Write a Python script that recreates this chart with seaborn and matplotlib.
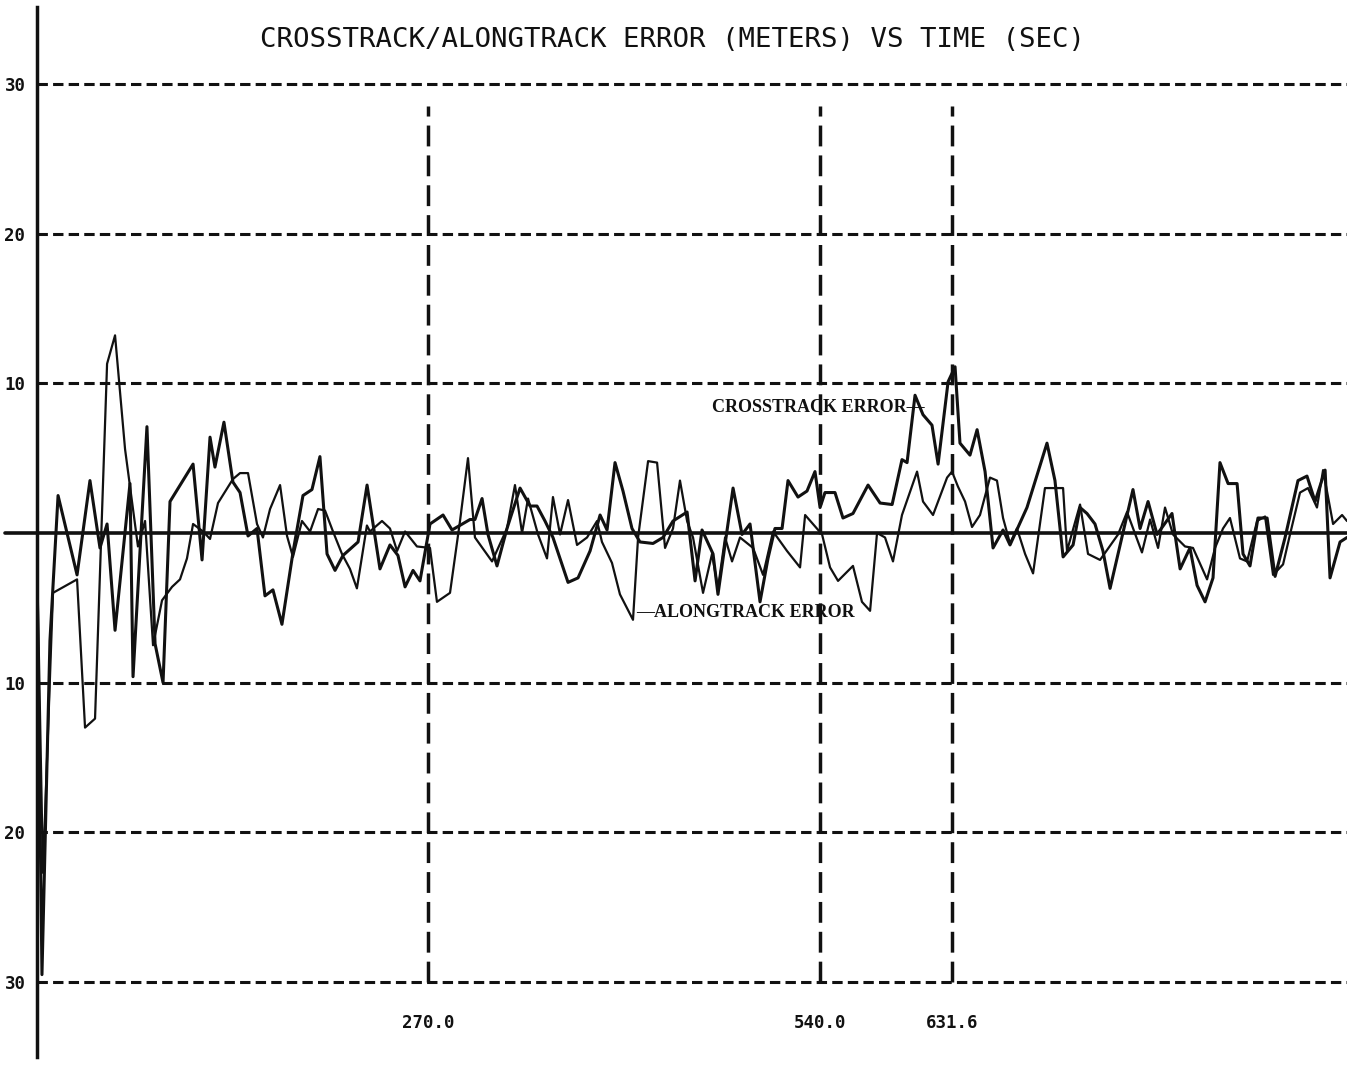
import matplotlib
matplotlib.use("Agg")
import matplotlib.pyplot as plt
from matplotlib import font_manager
import pandas as pd
import seaborn as sns

# ---------------- data ----------------
title = "CROSSTRACK/ALONGTRACK ERROR (METERS) VS TIME (SEC)"

crosstrack_t = [0, 3.7, 9.2, 14.8, 27.9, 36.8, 43.7, 48.6, 54.1, 64.4,
                66.5, 76.1, 81.7, 87.2, 92.0, 107.9, 114.1, 119.6, 123.0, 129.2,
                135.4, 140.3, 145.8, 152.0, 157.5, 163.0, 169.2, 176.8, 183.7, 189.9,
                195.4, 200.3, 205.8, 211.3, 221.7, 227.9, 236.8, 243.7, 249.2, 254.1,
                259.6, 264.4, 271.3, 280.3, 286.5, 298.9, 302.3, 307.2, 311.3, 317.5,
                324.4, 333.4, 340.3, 345.1, 350.6, 356.1, 366.5, 373.4, 381.7, 388.6,
                393.4, 398.9, 404.4, 410.6, 416.1, 425.1, 432.0, 438.9, 448.6, 454.1,
                458.9, 466.5, 469.9, 480.3, 486.5, 492.0, 498.9, 504.4, 509.2, 514.1,
                518.2, 525.1, 531.3, 536.8, 540.3, 543.7, 550.6, 556.1, 563.0, 573.4,
                581.7, 590.0, 596.8, 600.3, 605.8, 611.3, 617.5, 621.7, 628.6, 633.4,
                636.8, 643.7, 648.6, 654.1, 659.6, 666.5, 671.3, 683.0, 696.8, 702.3,
                707.9, 714.8, 719.6, 724.4, 729.9, 735.4, 740.3, 745.8, 756.1, 761.0,
                766.5, 772.7, 783.0, 788.6, 795.4, 800.3, 805.8, 811.3, 816.1, 821.7,
                827.9, 832.0, 836.8, 842.3, 848.6, 854.1, 861.0, 869.9, 876.1, 881.7,
                888.6, 892.0, 898.9, 903.7]
crosstrack_v = [0, -29.5, -7.2, 2.5, -2.8, 3.5, -1.0, 0.6, -6.5, 3.3,
                -9.6, 7.1, -7.4, -10.0, 2.1, 4.6, -1.8, 6.4, 4.4, 7.4,
                3.4, 2.7, -0.2, 0.3, -4.2, -3.8, -6.1, -1.3, 2.5, 2.9,
                5.1, -1.4, -2.5, -1.5, -0.6, 3.2, -2.4, -0.8, -1.5, -3.6,
                -2.5, -3.2, 0.6, 1.2, 0.2, 0.9, 0.9, 2.3, -0.1, -2.2,
                0.3, 3.0, 1.8, 1.8, 0.8, -0.3, -3.3, -3.0, -1.2, 1.2,
                0.2, 4.7, 2.8, 0.3, -0.6, -0.7, -0.3, 0.8, 1.4, -3.2,
                0.2, -1.4, -4.1, 3.0, -0.1, 0.6, -4.6, -1.7, 0.3, 0.3,
                3.5, 2.4, 2.8, 4.1, 1.7, 2.7, 2.7, 1.0, 1.3, 3.2,
                2.0, 1.9, 4.9, 4.7, 9.2, 7.9, 7.2, 4.6, 10.1, 11.1,
                6.0, 5.2, 6.9, 4.1, -1.0, 0.2, -0.8, 1.7, 6.0, 3.5,
                -1.6, -0.8, 1.7, 1.3, 0.6, -1.2, -3.7, -1.4, 2.9, 0.3,
                2.1, -0.1, 1.3, -2.4, -1.0, -3.5, -4.6, -3.0, 4.7, 3.3,
                3.3, -1.4, -2.2, 1.0, 1.0, -2.9, -0.3, 3.5, 3.8, 2.1,
                4.2, -3.0, -0.6, -0.3]

alongtrack_t = [0, 4.4, 11.3, 27.9, 33.4, 40.3, 48.6, 54.1, 61.0, 69.9,
                74.8, 80.3, 86.5, 93.4, 98.9, 103.7, 107.9, 114.8, 119.6, 125.1,
                135.4, 140.3, 145.8, 152.0, 156.1, 161.0, 167.9, 172.7, 176.8, 183.0,
                188.6, 194.1, 198.9, 204.4, 210.6, 216.1, 220.9, 227.8, 229.9, 238.2,
                243.7, 248.6, 254.1, 262.3, 271.3, 276.1, 285.1, 292.0, 297.5, 302.3,
                314.1, 324.4, 329.9, 334.8, 338.9, 345.8, 352.0, 356.1, 361.0, 366.5,
                372.7, 379.6, 386.5, 389.9, 396.8, 402.3, 411.3, 414.8, 421.7, 427.9,
                433.4, 438.9, 443.7, 448.6, 452.7, 459.6, 465.8, 469.9, 474.8, 479.6,
                485.1, 494.1, 501.0, 507.9, 517.5, 526.5, 530.0, 541.7, 547.2, 552.7,
                563.0, 569.2, 574.8, 579.6, 585.1, 590.6, 596.8, 607.2, 611.3, 618.2,
                627.9, 631.3, 635.4, 640.3, 645.1, 650.6, 657.5, 662.3, 666.5, 671.3,
                676.1, 681.7, 687.2, 695.4, 707.9, 710.6, 719.6, 725.1, 733.4, 745.8,
                752.0, 762.3, 767.9, 773.4, 778.2, 783.7, 792.0, 797.5, 807.2, 812.7,
                818.2, 823.0, 829.9, 834.8, 841.7, 847.2, 852.7, 859.6, 864.4, 871.3,
                876.8, 883.0, 887.2, 894.1, 900.3, 903.7]
alongtrack_v = [0, -22.7, -4.0, -3.1, -13.0, -12.4, 11.3, 13.2, 5.6, -0.9,
                0.8, -7.5, -4.5, -3.6, -3.1, -1.7, 0.6, 0.1, -0.4, 2.0,
                3.6, 4.0, 4.0, 0.6, -0.3, 1.6, 3.2, -0.2, -1.6, 0.8,
                0.1, 1.6, 1.5, 0.1, -1.4, -2.4, -3.7, 0.5, 0.1, 0.8,
                0.3, -1.2, 0.1, -0.9, -1.0, -4.6, -4.0, 0.8, 5.0, -0.3,
                -1.9, 0.3, 3.2, 0.0, 2.3, -0.1, -1.7, 2.4, -0.1, 2.2,
                -0.8, -0.3, 0.8, -0.6, -2.0, -4.1, -5.8, -0.3, 4.8, 4.7,
                -1.0, 0.3, 3.5, 0.8, -0.3, -4.0, -1.4, -3.7, -0.3, -1.9,
                -0.3, -1.0, -2.8, 0.1, -1.2, -2.3, 1.2, -0.1, -2.3, -3.2,
                -2.2, -4.6, -5.2, 0.0, -0.3, -1.9, 1.2, 4.1, 2.1, 1.2,
                3.7, 4.1, 3.1, 2.1, 0.4, 1.2, 3.7, 3.5, 1.0, -0.7,
                0.3, -1.4, -2.7, 3.0, 3.0, -1.2, 1.9, -1.4, -1.8, -0.1,
                1.4, -1.3, 0.9, -1.0, 1.7, -0.1, -0.9, -1.0, -3.1, -1.0,
                0.3, 1.0, -1.7, -1.9, 0.8, 1.1, -2.8, -2.1, -0.1, 2.7,
                3.0, 1.7, 4.2, 0.6, 1.2, 0.8]

grid_levels = [30, 20, 10, -10, -20, -30]
grid_labels = ["30", "20", "10", "10", "20", "30"]
marker_times = [270.0, 540.0, 631.6]
marker_labels = ["270.0", "540.0", "631.6"]

# ---------------- style ----------------
sns.set_theme(style="white")
plt.rcParams['font.family'] = ['DejaVu Sans Mono', 'DejaVu Sans']
INK = "#111111"


def has_font(name):
    try:
        font_manager.findfont(font_manager.FontProperties(family=name),
                              fallback_to_default=False)
        return True
    except Exception:
        return False


title_family = (["Liberation Sans Narrow", "DejaVu Sans Mono"]
                if has_font("Liberation Sans Narrow") else ["DejaVu Sans Mono"])

W, H = 1347, 1067
fig = plt.figure(figsize=(W / 100, H / 100), dpi=100)
fig.patch.set_facecolor("white")
left = 36.6 / W
ax = fig.add_axes([left, 0.0, 1 - left, 1.0])
ax.set_facecolor("white")
ax.set_xlim(0, 903.7)
ax.set_ylim(-35.67, 35.6)

# dashed reference lines
for lvl in grid_levels:
    ax.axhline(lvl, color=INK, lw=2.2, linestyle=(0, (3.4, 1.7)), zorder=1)
ax.vlines(marker_times, -30, 28.5, colors=INK, lw=2.5,
          linestyles=[(0, (6, 2.6))], zorder=1)
# zero line extends slightly left of the axis
ax.axhline(0, xmin=-0.024, xmax=1, color=INK, lw=2.6, clip_on=False, zorder=2)

# series
df_c = pd.DataFrame({"t": crosstrack_t, "v": crosstrack_v})
df_a = pd.DataFrame({"t": alongtrack_t, "v": alongtrack_v})
sns.lineplot(data=df_a, x="t", y="v", ax=ax, color=INK, lw=1.6,
             estimator=None, sort=False, zorder=3)
sns.lineplot(data=df_c, x="t", y="v", ax=ax, color=INK, lw=2.2,
             estimator=None, sort=False, zorder=4)

# axes styling
for s in ["top", "right", "bottom"]:
    ax.spines[s].set_visible(False)
ax.spines["left"].set_color(INK)
ax.spines["left"].set_linewidth(2.5)
ax.spines["left"].set_bounds(-35.0, 35.1)
ax.set_xticks([])
ax.set_yticks(grid_levels, grid_labels)
ax.tick_params(axis="y", length=0, pad=8.0, labelsize=12.5, labelcolor=INK)
for lab in ax.get_yticklabels():
    lab.set_fontweight("bold")
ax.set_xlabel("")
ax.set_ylabel("")

# bottom labels under the vertical markers
for tm, lab in zip(marker_times, marker_labels):
    ax.text(tm, -32.7, lab, ha="center", va="center", fontsize=12.5,
            fontweight="bold", color=INK)

# series annotations
ax.text(465.8, 8.4, "CROSSTRACK ERROR\u2014", ha="left", va="center",
        family=["Liberation Serif", "DejaVu Serif"], fontweight="bold",
        fontsize=13, color=INK, zorder=5)
ax.text(413.4, -5.3, "\u2014ALONGTRACK ERROR", ha="left", va="center",
        family=["Liberation Serif", "DejaVu Serif"], fontweight="bold",
        fontsize=13, color=INK, zorder=5)

# title: fit its width to the reference span
t_obj = fig.text(672.5 / W, 1 - 40 / H, title, ha="center", va="center",
                 fontsize=20, color=INK, family=title_family)
fig.canvas.draw()
w_now = t_obj.get_window_extent(renderer=fig.canvas.get_renderer()).width
t_obj.set_fontsize(20 * 825.0 / w_now)

fig.savefig("out.png", dpi=100, facecolor="white")
